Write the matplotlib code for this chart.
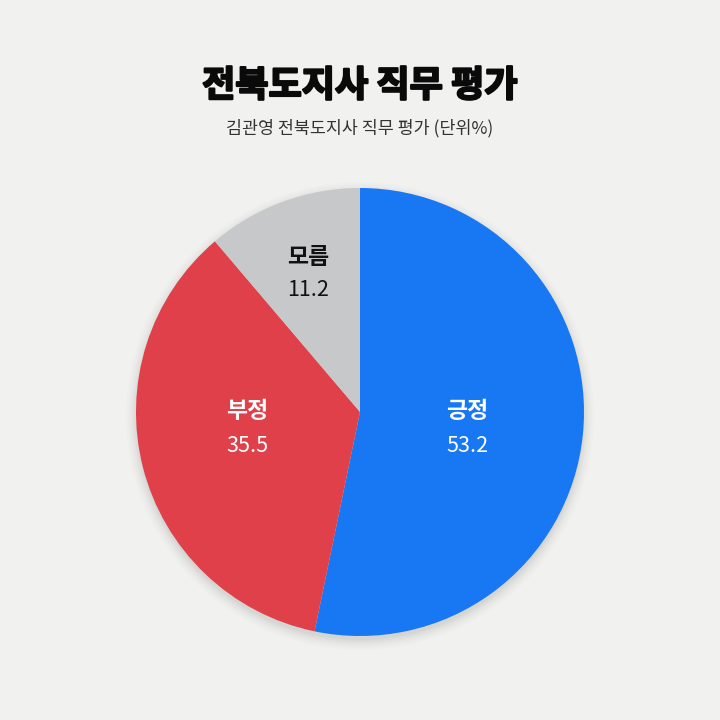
import matplotlib
matplotlib.use("Agg")
import matplotlib.pyplot as plt
from matplotlib.patches import Circle
import matplotlib.patheffects as pe

categories = ["긍정", "부정", "모름"]
values = [53.2, 35.5, 11.2]
colors = ["#1877f2", "#e0404a", "#c7c8ca"]
text_colors = ["white", "white", "#111111"]

plt.rcParams['font.family'] = ['Noto Sans CJK KR', 'DejaVu Sans']
BG = "#f1f1ef"

fig = plt.figure(figsize=(7.2, 7.2), dpi=100, facecolor=BG)
ax = fig.add_axes([0, 0, 1, 1])
ax.set_facecolor(BG)

cx, cy, r = 360, 720 - 412, 224

# soft shadow
for i, a in enumerate([0.010, 0.012, 0.015, 0.018, 0.022, 0.026]):
    ax.add_patch(Circle((cx, cy - 4), r + 10 - i * 2, color="black", alpha=a, lw=0, zorder=0))

wedges, _ = ax.pie(values, colors=colors, startangle=90, counterclock=False,
                   center=(cx, cy), radius=r, frame=True,
                   wedgeprops=dict(linewidth=0, zorder=1))

label_pos = [(467, 412, 446), (247, 412, 446), (308, 257, 290)]
for (x, yl, yv), cat, v, tc in zip(label_pos, categories, values, text_colors):
    ax.text(x, 720 - yl, cat, ha="center", va="center", fontsize=16.5,
            fontweight="bold", color=tc, zorder=3)
    ax.text(x, 720 - yv, f"{v:.1f}", ha="center", va="center", fontsize=15.5,
            color=tc, zorder=3)

ax.text(360, 720 - 86, "전북도지사 직무 평가", ha="center", va="center",
        fontsize=26, fontweight="black", color="#0a0a0a",
        path_effects=[pe.withStroke(linewidth=1.6, foreground="#0a0a0a")])
ax.text(360, 720 - 128, "김관영 전북도지사 직무 평가 (단위%)", ha="center", va="center",
        fontsize=12.5, color="#333333")

ax.set_xlim(0, 720)
ax.set_ylim(0, 720)
ax.set_aspect("equal")
ax.axis("off")

fig.savefig("out.png", dpi=100, facecolor=BG)
